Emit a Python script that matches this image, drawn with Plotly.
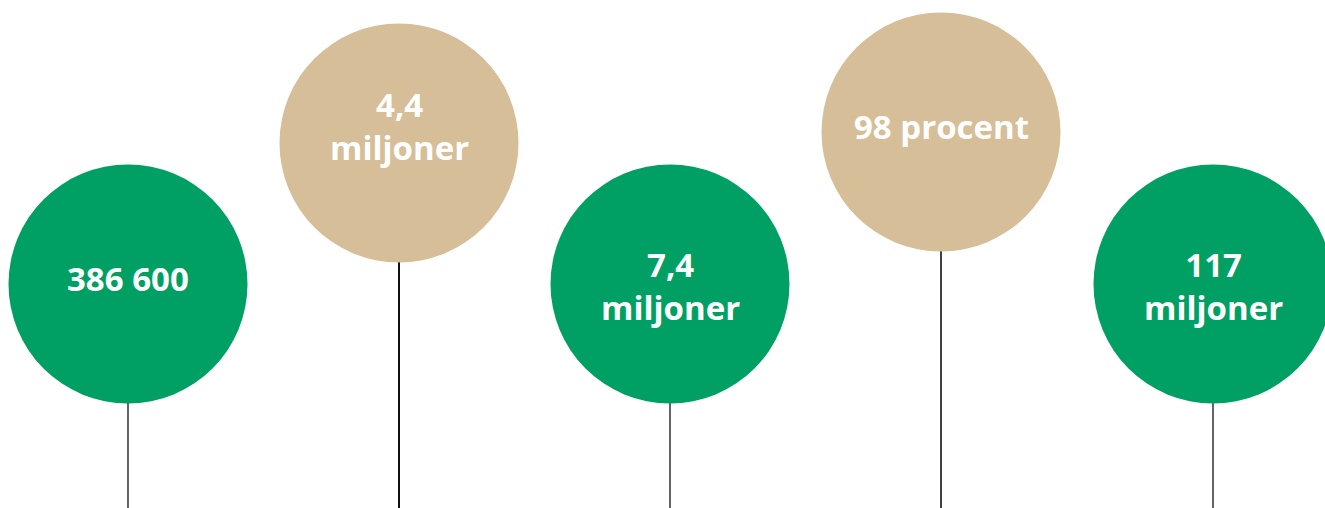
import plotly.graph_objects as go

# Data
labels = ["386 600", "4,4<br>miljoner", "7,4<br>miljoner", "98 procent", "117<br>miljoner"]
kinds = ["green", "beige", "green", "beige", "green"]

# Layout (pixel space)
W, H = 1325, 508
cx = [128, 399, 670, 941, 1213]
cy = [284, 143, 284, 132, 284]
text_dy = [-5.5, -17.5, 1.5, -5.5, 1.5]
R = 119.5
colors = {"green": "#00A064", "beige": "#D5BE98"}
line_w = [1.3, 2.0, 1.3, 1.6, 1.3]
FS = 33

fig = go.Figure()
fig.add_trace(go.Scatter(x=[0, W], y=[0, H], mode="markers",
                         marker=dict(opacity=0), hoverinfo="skip", showlegend=False))

shapes = []
annotations = []
for i, lab in enumerate(labels):
    shapes.append(dict(type="line", x0=cx[i], x1=cx[i], y0=cy[i], y1=H,
                       line=dict(color="#111111", width=line_w[i]), layer="below"))
    shapes.append(dict(type="circle", x0=cx[i] - R, x1=cx[i] + R,
                       y0=cy[i] - R, y1=cy[i] + R,
                       fillcolor=colors[kinds[i]], line=dict(width=0), layer="above"))
    annotations.append(dict(x=cx[i], y=cy[i] + text_dy[i], text=lab, showarrow=False,
                            xanchor="center", yanchor="middle", align="center",
                            borderpad=0,
                            font=dict(family="Open Sans", size=FS, color="white",
                                      weight="bold")))

fig.update_layout(
    width=W, height=H, margin=dict(l=0, r=0, t=0, b=0),
    paper_bgcolor="white", plot_bgcolor="white",
    xaxis=dict(range=[0, W], visible=False, fixedrange=True),
    yaxis=dict(range=[H, 0], visible=False, fixedrange=True),
    shapes=shapes, annotations=annotations,
)
fig.write_html("out.html", config={"displayModeBar": False},
               post_script="document.body.style.margin='0';document.body.style.overflow='hidden';")
